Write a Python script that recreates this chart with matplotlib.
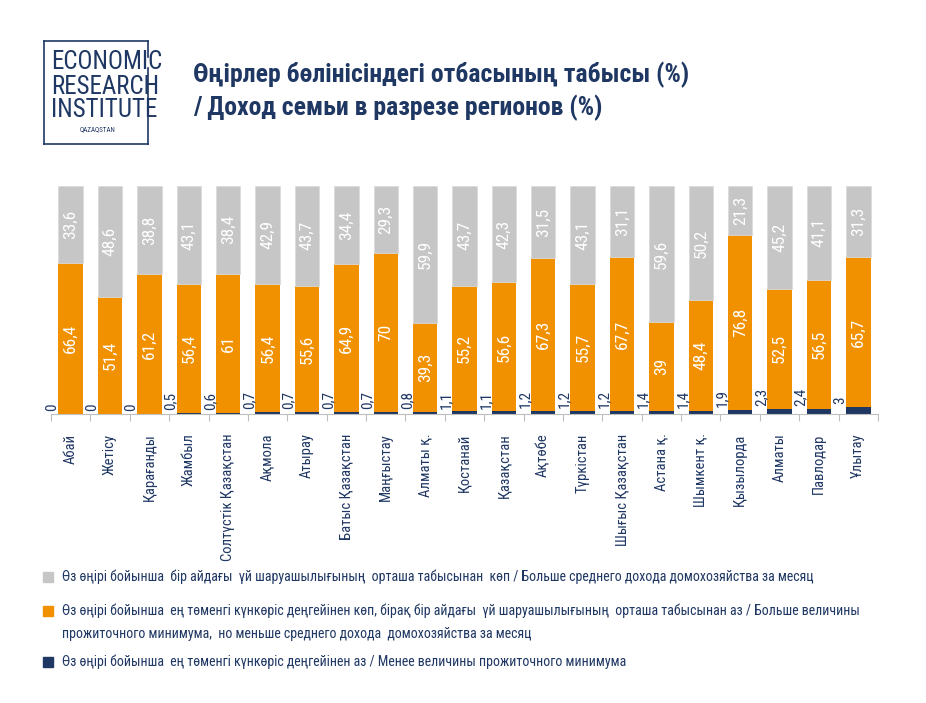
import matplotlib
matplotlib.use('Agg')
import matplotlib.pyplot as plt
from matplotlib import font_manager
from matplotlib.patches import Rectangle
from matplotlib.lines import Line2D

# ===== Data =====
regions = ['Абай', 'Жетісу', 'Қарағанды', 'Жамбыл', 'Солтүстік Қазақстан',
           'Ақмола', 'Атырау', 'Батыс Қазақстан', 'Маңғыстау', 'Алматы қ.',
           'Қостанай', 'Қазақстан', 'Ақтөбе', 'Түркістан', 'Шығыс Қазақстан',
           'Астана қ.', 'Шымкент қ.', 'Қызылорда', 'Алматы', 'Павлодар', 'Ұлытау']
below_min = [0, 0, 0, 0.5, 0.6, 0.7, 0.7, 0.7, 0.7, 0.8, 1.1,
             1.1, 1.2, 1.2, 1.2, 1.4, 1.4, 1.9, 2.3, 2.4, 3]
between = [66.4, 51.4, 61.2, 56.4, 61, 56.4, 55.6, 64.9, 70, 39.3, 55.2,
           56.6, 67.3, 55.7, 67.7, 39, 48.4, 76.8, 52.5, 56.5, 65.7]
above_avg = [33.6, 48.6, 38.8, 43.1, 38.4, 42.9, 43.7, 34.4, 29.3, 59.9, 43.7,
             42.3, 31.5, 43.1, 31.1, 59.6, 50.2, 21.3, 45.2, 41.1, 31.3]

legend_labels = [
    'Өз өңірі бойынша  бір айдағы  үй шаруашылығының  орташа табысынан  көп / Больше среднего дохода домохозяйства за месяц',
    'Өз өңірі бойынша  ең төменгі күнкөріс деңгейінен көп, бірақ бір айдағы  үй шаруашылығының  орташа табысынан аз / Больше величины\n'
    'прожиточного минимума,  но меньше среднего дохода  домохозяйства за месяц',
    'Өз өңірі бойынша  ең төменгі күнкөріс деңгейінен аз / Менее величины прожиточного минимума',
]

# -------- colours / font --------
GRAY = '#C6C6C6'
ORANGE = '#F29100'
NAVY = '#1F3763'

available = {f.name for f in font_manager.fontManager.ttflist}
FONT = 'DejaVu Sans'
for cand in ['Liberation Sans Narrow', 'Roboto Condensed', 'Open Sans Condensed', 'Roboto']:
    if cand in available:
        FONT = cand
        break
plt.rcParams['font.family'] = [FONT, 'DejaVu Sans']

fig = plt.figure(figsize=(9.26, 7.03), dpi=100)
ax = fig.add_axes([51 / 926, 1 - 414 / 703, 827 / 926, 228 / 703])

x = list(range(len(regions)))
w = 0.62
bottom2 = below_min
bottom3 = [a + b for a, b in zip(below_min, between)]

ax.bar(x, below_min, width=w, color=NAVY, edgecolor='none')
ax.bar(x, between, width=w, bottom=bottom2, color=ORANGE, edgecolor='none')
ax.bar(x, above_avg, width=w, bottom=bottom3, color=GRAY, edgecolor='#DADADA', linewidth=0.6)

# value labels
def fmt(v):
    s = f'{v:g}'
    return s.replace('.', ',')

for i in x:
    ax.text(i - 0.46, below_min[i] + 1.3, fmt(below_min[i]), rotation=90,
            ha='center', va='bottom', color=NAVY, fontsize=11)
    ax.text(i, bottom2[i] + between[i] / 2, fmt(between[i]), rotation=90,
            ha='center', va='center', color='white', fontsize=12.5)
    ax.text(i, bottom3[i] + above_avg[i] / 2, fmt(above_avg[i]), rotation=90,
            ha='center', va='center', color='white', fontsize=12.5)

ax.set_xlim(-0.5, len(regions) - 0.5)
ax.set_ylim(0, 100)
for s in ['top', 'right', 'left']:
    ax.spines[s].set_visible(False)
ax.spines['bottom'].set_color('#BFBFBF')
ax.set_yticks([])
ax.set_xticks([i - 0.5 for i in range(len(regions) + 1)])
ax.set_xticklabels([])
ax.tick_params(axis='x', length=5, color='#BFBFBF')
ax.set_xticks(x, minor=True)
ax.set_xticklabels(regions, minor=True, rotation=90, color=NAVY, fontsize=10.5, va='top')
ax.tick_params(axis='x', which='minor', length=0, pad=14)

# -------- title --------
fig.text(193 / 926, 1 - 75 / 703, 'Өңірлер бөлінісіндегі отбасының табысы (%)',
         fontsize=18.5, fontweight='bold', color=NAVY, va='center', ha='left')
fig.text(193 / 926, 1 - 108 / 703, '/ Доход семьи в разрезе регионов (%)',
         fontsize=18.5, fontweight='bold', color=NAVY, va='center', ha='left')

# -------- logo --------
fig.add_artist(Line2D([44 / 926, 148 / 926], [1 - 41 / 703, 1 - 41 / 703], color=NAVY, lw=1.2))
fig.add_artist(Line2D([44 / 926, 44 / 926], [1 - 41 / 703, 1 - 144 / 703], color=NAVY, lw=1.2))
fig.add_artist(Line2D([44 / 926, 148 / 926], [1 - 144 / 703, 1 - 144 / 703], color=NAVY, lw=1.2))
fig.add_artist(Line2D([148 / 926, 148 / 926], [1 - 41 / 703, 1 - 57 / 703], color=NAVY, lw=1.2))
fig.add_artist(Line2D([148 / 926, 148 / 926], [1 - 68 / 703, 1 - 144 / 703], color=NAVY, lw=1.2))
for txt, yy in [('ECONOMIC', 62), ('RESEARCH', 87), ('INSTITUTE', 110)]:
    fig.text(51 / 926, 1 - yy / 703, txt, fontsize=18, color=NAVY, va='center', ha='left')
fig.text(98 / 926, 1 - 130 / 703, 'QAZAQSTAN', fontsize=5, color=NAVY, va='center', ha='center')

# -------- legend --------
colors = [GRAY, ORANGE, NAVY]
ys = [577, 611, 662]
for c, lab, yy in zip(colors, legend_labels, ys):
    fig.add_artist(Rectangle((43 / 926, 1 - (yy + 5) / 703), 10 / 926, 10 / 703,
                             color=c, transform=fig.transFigure))
    for k, line in enumerate(lab.split('\n')):
        fig.text(62 / 926, 1 - (yy + 23 * k) / 703, line, fontsize=10, color=NAVY,
                 va='center', ha='left')

fig.savefig('out.png', dpi=100)
